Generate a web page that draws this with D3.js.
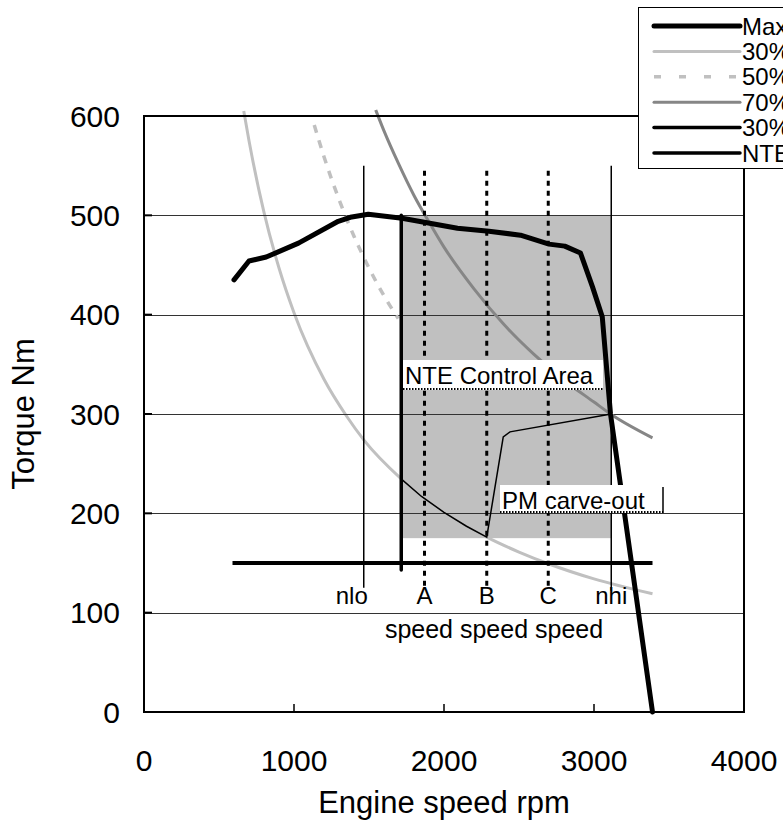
<!DOCTYPE html>
<html><head><meta charset="utf-8">
<script src="https://cdn.jsdelivr.net/npm/d3@7"></script>
<style>
html,body{margin:0;padding:0;background:#fff;}
svg{display:block;font-family:"Liberation Sans",Arial,sans-serif;}
</style></head>
<body><svg id="chart" width="783" height="833"></svg>
<script>
// ---------- data ----------
const xTicks = [0, 1000, 2000, 3000, 4000];
const yTicks = [0, 100, 200, 300, 400, 500, 600];

const maxTorqueRpm = [600, 700, 815, 1030, 1295, 1375, 1495, 1720, 2090, 2300, 2510, 2700, 2805, 2910, 2990, 3055, 3110, 3390];
const maxTorqueNm  = [435, 454, 458, 472, 494, 498, 501, 497, 487, 484, 480, 471, 469, 462, 428, 398, 300, 0];

const p30Rpm = [665, 700, 800, 900, 1000, 1200, 1350, 1465, 1720, 2000, 2285, 2500, 2700, 3000, 3390];
const p30Nm  = [605, 575, 503, 447, 402, 335, 298, 274, 234, 201, 176, 161, 149, 134, 119];

const p50Rpm = [1135, 1200, 1300, 1400, 1500, 1600, 1695];
const p50Nm  = [591, 559, 516, 479, 447, 419, 396];

const p70Rpm = [1545, 1600, 1700, 1800, 1905, 2000, 2200, 2400, 2600, 2800, 3000, 3110, 3390];
const p70Nm  = [606, 585, 551, 520, 492, 468, 426, 390, 360, 334, 312, 300, 276];

const pmRpm = [1720, 1850, 2000, 2150, 2285, 2395, 2440, 3115];
const pmNm  = [234, 217, 201, 187, 176, 277, 282, 300];

const torque30Rpm = [590, 3390];
const torque30Nm  = [150, 150];

const nteMinRpm = [1715, 1715];
const nteMinNm  = [500, 143];

const nteArea = {rpm: [1715, 3115], nm: [175, 500]};

const speedMarkers = ["nlo", "A", "B", "C", "nhi"];
const speedRpm     = [1465, 1870, 2285, 2695, 3115];
const speedTop     = [550, 545, 545, 545, 550];
const speedBottom  = [125, 124, 124, 124, 122];
const speedDotted  = [false, true, true, true, false];

const legendNames = ["Max torque", "30% power", "50% power", "70% power", "30% torque", "NTE speed"];

// ---------- layout ----------
const svg = d3.select("#chart");
const x = d3.scaleLinear().domain([0, 4000]).range([144, 744]);
const y = d3.scaleLinear().domain([0, 600]).range([712, 116]);
const pts = (a, b) => a.map((v, i) => [v, b[i]]);
const line = d3.line().x(d => x(d[0])).y(d => y(d[1]));
const smooth = d3.line().x(d => x(d[0])).y(d => y(d[1])).curve(d3.curveMonotoneX);

const LG = "#c0c0c0", MG = "#868686";

// 30% power (under shading)
svg.append("path").attr("d", smooth(pts(p30Rpm, p30Nm)))
  .attr("fill", "none").attr("stroke", LG).attr("stroke-width", 3);

// NTE shaded area
svg.append("rect")
  .attr("x", x(nteArea.rpm[0])).attr("y", y(nteArea.nm[1]))
  .attr("width", x(nteArea.rpm[1]) - x(nteArea.rpm[0]))
  .attr("height", y(nteArea.nm[0]) - y(nteArea.nm[1]))
  .attr("fill", "#c0c0c0");

// gridlines
svg.append("g").selectAll("line").data(yTicks.filter(d => d > 0 && d < 600)).join("line")
  .attr("x1", x(0)).attr("x2", x(4000))
  .attr("y1", d => Math.round(y(d)) + 0.5).attr("y2", d => Math.round(y(d)) + 0.5)
  .attr("stroke", "#333").attr("stroke-width", 1);

// 50% power dashed
svg.append("path").attr("d", smooth(pts(p50Rpm, p50Nm)))
  .attr("fill", "none").attr("stroke", LG).attr("stroke-width", 3.5).attr("stroke-dasharray", "8,8");
// 70% power
svg.append("path").attr("d", smooth(pts(p70Rpm, p70Nm)))
  .attr("fill", "none").attr("stroke", MG).attr("stroke-width", 3);

// speed marker lines
speedMarkers.forEach((m, i) => {
  svg.append("line")
    .attr("x1", x(speedRpm[i])).attr("x2", x(speedRpm[i]))
    .attr("y1", y(speedTop[i])).attr("y2", y(speedBottom[i]))
    .attr("stroke", "#000")
    .attr("stroke-width", speedDotted[i] ? 3 : 1.5)
    .attr("stroke-dasharray", speedDotted[i] ? "5,5" : null);
});

// PM carve-out boundary
svg.append("path").attr("d", line(pts(pmRpm, pmNm)))
  .attr("fill", "none").attr("stroke", "#000").attr("stroke-width", 1.5);

// 30% torque line
svg.append("path").attr("d", line(pts(torque30Rpm, torque30Nm)))
  .attr("fill", "none").attr("stroke", "#000").attr("stroke-width", 4);
// NTE minimum speed line
svg.append("path").attr("d", line(pts(nteMinRpm, nteMinNm)))
  .attr("fill", "none").attr("stroke", "#000").attr("stroke-width", 3.5).attr("stroke-linecap", "round");

// max torque
svg.append("path").attr("d", line(pts(maxTorqueRpm, maxTorqueNm)))
  .attr("fill", "none").attr("stroke", "#000").attr("stroke-width", 5)
  .attr("stroke-linejoin", "round").attr("stroke-linecap", "round");

// frame
svg.append("rect").attr("x", x(0)).attr("y", y(600))
  .attr("width", x(4000) - x(0)).attr("height", y(0) - y(600))
  .attr("fill", "none").attr("stroke", "#000").attr("stroke-width", 2);

// ticks (inward)
svg.append("g").selectAll("line").data(xTicks.filter(d => d > 0 && d < 4000)).join("line")
  .attr("x1", d => x(d)).attr("x2", d => x(d)).attr("y1", y(0)).attr("y2", y(0) - 8)
  .attr("stroke", "#000").attr("stroke-width", 1.5);
svg.append("g").selectAll("line").data(yTicks.filter(d => d > 0 && d < 600)).join("line")
  .attr("x1", x(0)).attr("x2", x(0) + 8).attr("y1", d => y(d)).attr("y2", d => y(d))
  .attr("stroke", "#000").attr("stroke-width", 2);

// tick labels
svg.append("g").selectAll("text").data(xTicks).join("text")
  .attr("x", d => x(d)).attr("y", 771).attr("text-anchor", "middle")
  .attr("font-size", 30).text(d => d);
svg.append("g").selectAll("text").data(yTicks).join("text")
  .attr("x", 120).attr("y", d => y(d)).attr("dy", "0.36em").attr("text-anchor", "end")
  .attr("font-size", 30).text(d => d);

// axis titles
svg.append("text").attr("x", 444).attr("y", 813).attr("text-anchor", "middle")
  .attr("font-size", 31).text("Engine speed rpm");
svg.append("text").attr("transform", "translate(34,414) rotate(-90)")
  .attr("text-anchor", "middle").attr("font-size", 31).text("Torque Nm");

// speed labels
speedMarkers.forEach((m, i) => {
  svg.append("text").attr("x", x(speedRpm[i]) - (i === 0 ? 12 : 0)).attr("y", 604)
    .attr("text-anchor", "middle").attr("font-size", 24).text(m);
});
svg.append("text").attr("x", 494).attr("y", 638).attr("text-anchor", "middle")
  .attr("font-size", 25).text("speed speed speed");

// text boxes
function textBox(tx, bx, by, bw, bh, baseline, label, rightBar) {
  svg.append("rect").attr("x", bx).attr("y", by).attr("width", bw).attr("height", bh).attr("fill", "#fff");
  svg.append("line").attr("x1", bx).attr("x2", bx + bw).attr("y1", by + bh - 1).attr("y2", by + bh - 1)
    .attr("stroke", "#000").attr("stroke-width", 2).attr("stroke-dasharray", "1.5,1.5");
  if (rightBar) svg.append("line").attr("x1", bx + bw).attr("x2", bx + bw).attr("y1", by + 2).attr("y2", by + bh)
    .attr("stroke", "#000").attr("stroke-width", 1.5);
  svg.append("text").attr("x", tx).attr("y", baseline).attr("font-size", 24).text(label);
}
textBox(405, 403, 360, 200, 30, 384, "NTE Control Area", false);
textBox(502, 500, 485, 163, 28, 509, "PM carve-out", true);

// legend (its right part runs past the picture edge, as in the reference)
const lg = svg.append("g");
lg.append("rect").attr("x", 638.5).attr("y", 7.5).attr("width", 160).attr("height", 161)
  .attr("fill", "#fff").attr("stroke", "#000").attr("stroke-width", 1);
const lStyles = [
  {c: "#000", w: 5, d: null},
  {c: LG, w: 3, d: null},
  {c: LG, w: 3.5, d: "7,18"},
  {c: MG, w: 3, d: null},
  {c: "#000", w: 3.5, d: null},
  {c: "#000", w: 3.5, d: null}
];
legendNames.forEach((n, i) => {
  const yy = 26 + i * 25.4;
  lg.append("line").attr("x1", 654).attr("x2", 740).attr("y1", yy).attr("y2", yy)
    .attr("stroke", lStyles[i].c).attr("stroke-width", lStyles[i].w)
    .attr("stroke-dasharray", lStyles[i].d).attr("stroke-linecap", lStyles[i].d ? "butt" : "round");
  lg.append("text").attr("x", 742).attr("y", yy).attr("dy", "0.36em").attr("font-size", 24).text(n);
});
</script></body></html>
